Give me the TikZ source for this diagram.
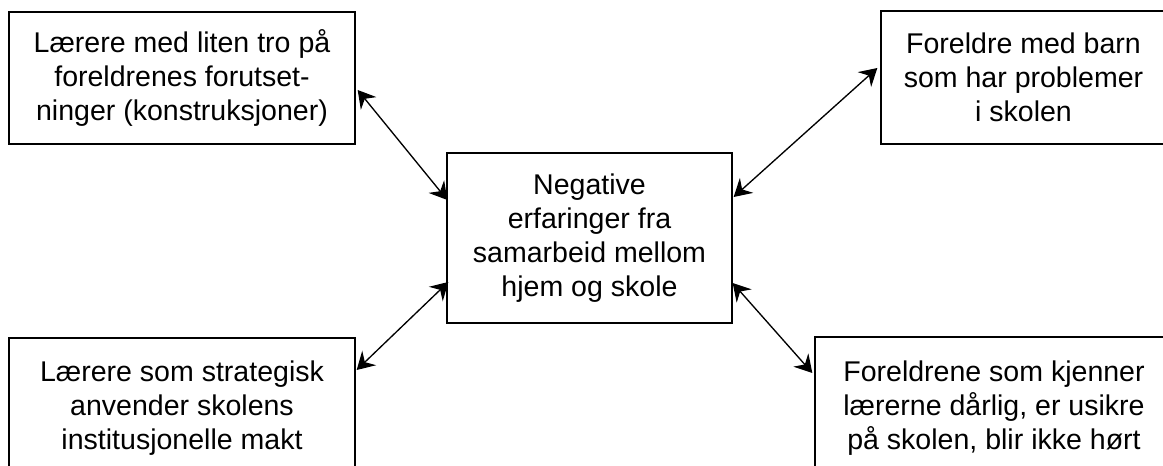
\documentclass[tikz,border=0pt]{standalone}
\usepackage{fontspec}
\setmainfont{Liberation Sans}
\usetikzlibrary{arrows.meta,calc}
\begin{document}
\begin{tikzpicture}[x=0.75pt,y=-0.75pt,
  box/.style={draw,line width=1pt,inner sep=0pt,align=center,
    font=\fontsize{21.4}{25.5}\selectfont},
  link/.style={line width=1pt,arrows={Stealth[length=13pt,width=15pt,inset=4.5pt]-Stealth[length=13pt,width=15pt,inset=4.5pt]}}]
\useasboundingbox (0,0) rectangle (1163,466);
\clip (0,0) rectangle (1163,466);
\node[box,minimum width=346*0.75pt,minimum height=132*0.75pt] (tl) at (182,78)
  {Lærere med liten tro på\\foreldrenes forutset-\\ninger (konstruksjoner)};
\node[box,minimum width=285*0.75pt,minimum height=133*0.75pt] (tr) at (1023.5,77.5)
  {Foreldre med barn\\som har problemer\\i skolen};
\node[box,minimum width=285*0.75pt,minimum height=170*0.75pt] (c) at (589.5,238)
  {Negative\\erfaringer fra\\samarbeid mellom\\hjem og skole};
\node[box,minimum width=346*0.75pt,minimum height=140*0.75pt] (bl) at (182,408)
  {Lærere som strategisk\\anvender skolens\\institusjonelle makt};
\node[box,minimum width=358*0.75pt,minimum height=142*0.75pt] (br) at (994,408)
  {Foreldrene som kjenner\\lærerne dårlig, er usikre\\på skolen, blir ikke hørt};
\draw[link] ($(tl.east)+(2,12)$) -- ($(c.west)+(1,-38)$);
\draw[link] ($(tr.west)+(-3,-9.5)$) -- ($(c.east)+(1,-41)$);
\draw[link] ($(bl.east)+(1,-38)$) -- ($(c.west)+(2,44)$);
\draw[link] ($(br.west)+(-2,-35)$) -- ($(c.east)+(0,45)$);
\end{tikzpicture}
\end{document}
